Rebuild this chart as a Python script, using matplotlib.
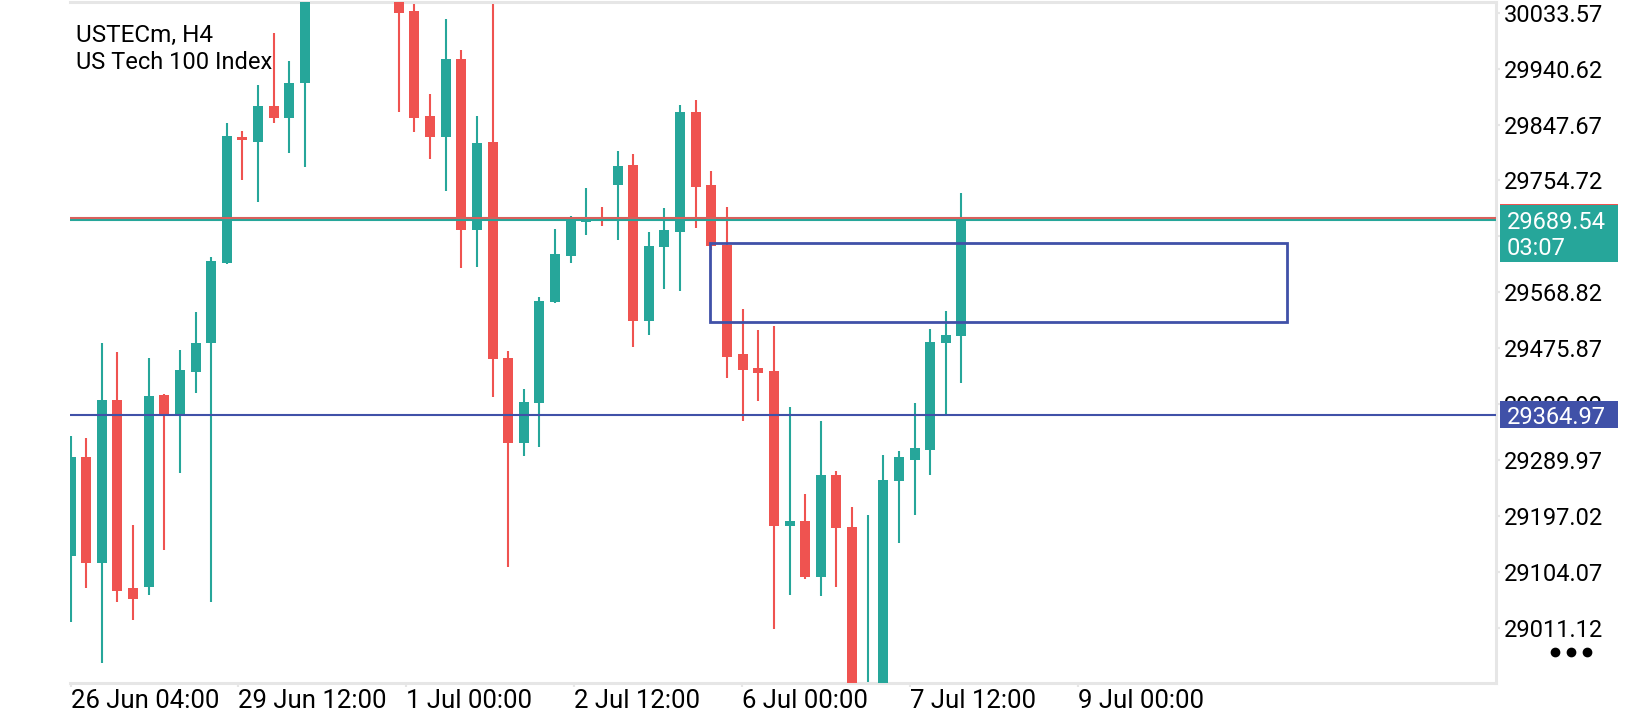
import matplotlib
matplotlib.use("Agg")
import matplotlib.pyplot as plt
from matplotlib.patches import Rectangle
from matplotlib.lines import Line2D
import numpy as np

plt.rcParams['font.family'] = ['Roboto', 'DejaVu Sans']

# ---- data (H4 candles, USTECm) ----
opens = [29130.2, 29294.3, 29118.0, 29389.6, 29076.5, 29079.2, 29397.9, 29364.6, 29436.6, 29483.9,
         29617.9, 29827.4, 29819.1, 29878.4, 29858.0, 29916.2, 30090.0, 30140.0, 30180.0, 30150.0,
         30100.0, 30078.0, 30036.4, 29861.8, 29826.4, 29956.6, 29672.3, 29818.6, 29458.9, 29317.6,
         29384.1, 29553.0, 29629.5, 29686.1, 29693.4, 29747.1, 29780.3, 29520.9, 29644.5, 29669.4,
         29868.0, 29747.1, 29647.3, 29466.1, 29442.3, 29437.8, 29180.6, 29188.4, 29095.8, 29264.9,
         29178.9, 28850.0, 28895.0, 29255.4, 29289.8, 29306.4, 29484.9, 29496.5]
highs = [29329.7, 29325.9, 29483.8, 29468.9, 29181.7, 29458.9, 29399.6, 29472.7, 29536.4, 29627.9,
         29849.7, 29836.9, 29913.4, 29999.3, 29953.3, 30130.0, 30160.0, 30210.0, 30230.0, 30190.0,
         30140.0, 30095.0, 30065.0, 29898.4, 30023.1, 29971.6, 29861.8, 30060.0, 29471.1, 29407.9,
         29561.4, 29673.9, 29695.5, 29741.6, 29711.0, 29803.6, 29798.6, 29669.4, 29708.3, 29880.1,
         29888.4, 29770.4, 29710.0, 29540.4, 29506.0, 29512.6, 29378.4, 29232.8, 29354.7, 29271.5,
         29212.2, 29198.4, 29298.1, 29304.8, 29384.1, 29507.1, 29537.6, 29734.3]
lows = [29020.9, 29076.5, 28951.8, 29054.2, 29023.8, 29065.3, 29140.2, 29268.7, 29400.7, 29054.2,
        29616.2, 29755.4, 29719.3, 29849.7, 29799.8, 29776.5, 30075.0, 30110.0, 30120.0, 30080.0,
        30062.0, 29869.0, 29835.7, 29790.8, 29737.6, 29609.6, 29611.2, 29395.1, 29112.4, 29297.0,
        29310.9, 29551.4, 29616.9, 29663.9, 29678.9, 29655.6, 29478.2, 29497.7, 29574.2, 29571.3,
        29676.1, 29639.0, 29426.7, 29355.2, 29388.4, 29008.3, 29065.3, 29091.9, 29063.7, 29079.2,
        28840.0, 28820.0, 28860.0, 29152.3, 29198.4, 29264.9, 29366.3, 29418.3]
closes = [29295.3, 29118.0, 29389.6, 29072.5, 29058.2, 29396.2, 29366.3, 29439.5, 29484.9, 29620.7,
          29828.6, 29821.9, 29878.4, 29858.0, 29916.2, 30090.0, 30140.0, 30180.0, 30150.0, 30100.0,
          30078.0, 30033.5, 29858.0, 29826.4, 29956.6, 29672.3, 29817.4, 29457.3, 29317.6, 29386.8,
          29554.2, 29632.4, 29691.7, 29693.4, 29687.7, 29778.7, 29520.9, 29645.7, 29672.3, 29868.0,
          29744.3, 29646.2, 29461.6, 29439.5, 29435.0, 29180.6, 29188.4, 29095.8, 29264.9, 29176.2,
          28870.0, 28900.0, 29256.6, 29294.3, 29309.3, 29485.5, 29497.7, 29689.54]

date_labels = ['26 Jun 04:00', '29 Jun 12:00', '1 Jul 00:00', '2 Jul 12:00',
               '6 Jul 00:00', '7 Jul 12:00', '9 Jul 00:00']
price_ticks = [30033.57, 29940.62, 29847.67, 29754.72, 29661.77, 29568.82, 29475.87,
               29382.92, 29289.97, 29197.02, 29104.07, 29011.12]

bid_price = 29689.54
ask_price = 29693.0
level_price = 29364.97
bar_time_left = '03:07'
zone_top = 29650.1
zone_bottom = 29518.8
zone_start_bar = 40.89
zone_end_bar = 77.83

title_lines = ['USTECm, H4', 'US Tech 100 Index']

# ---- styling ----
UP = '#26a69a'
DOWN = '#ef5350'
BLUE = '#4051a8'
GRID = '#e6e6e6'
W, H = 1640, 720

fig = plt.figure(figsize=(W / 100, H / 100), dpi=100)
ax = fig.add_axes([70 / W, 1 - 683 / H, (1496 - 70) / W, (683 - 2) / H])

x = np.arange(len(opens))
o = np.array(opens); h = np.array(highs); l = np.array(lows); c = np.array(closes)
colors = np.where(c >= o, UP, DOWN)

ax.vlines(x, l, h, colors=colors, linewidth=1.5, zorder=2)
ax.bar(x, np.abs(c - o), bottom=np.minimum(o, c), width=0.64, color=colors,
       linewidth=0, zorder=3)

# horizontal lines
ax.axhline(bid_price, color=UP, linewidth=1.5, zorder=4)
ax.axhline(ask_price, color='#d9605c', linewidth=1.5, zorder=4)
ax.axhline(level_price, color=BLUE, linewidth=1.5, zorder=4)

# zone rectangle
ax.add_patch(Rectangle((zone_start_bar, zone_bottom), zone_end_bar - zone_start_bar,
                       zone_top - zone_bottom, fill=False, edgecolor=BLUE,
                       linewidth=2.0, zorder=5))

ax.set_xlim(-0.032, 91.2)
ax.set_ylim(28919.0, 30051.4)

# spines
ax.spines['left'].set_visible(False)
for s in ['top', 'right', 'bottom']:
    ax.spines[s].set_color(GRID)
    ax.spines[s].set_linewidth(2.2)

# x ticks
ax.set_xticks(np.arange(len(date_labels)) * 10.744)
ax.set_xticklabels(date_labels)
for lab in ax.get_xticklabels():
    lab.set_horizontalalignment('left')
ax.tick_params(axis='x', length=3, width=1.5, color=GRID, labelsize=18.5, pad=1.5,
               labelcolor='#000000')

# y ticks on right
ax.yaxis.tick_right()
ax.set_yticks(price_ticks)
ax.set_yticklabels([f'{p:.2f}' for p in price_ticks])
ax.tick_params(axis='y', length=3, width=1.5, color=GRID, labelsize=17, pad=2.5,
               labelcolor='#000000')
ax.tick_params(axis='y', which='both', left=False)

# title text
fig.text(76 / W, 1 - 41.7 / H, title_lines[0], fontsize=17.5, va='baseline', ha='left', color='#000000', zorder=10)
fig.text(76 / W, 1 - 69.3 / H, title_lines[1], fontsize=17, va='baseline', ha='left', color='#000000', zorder=10)

# price labels on the right axis
def px_rect(x0, y0, x1, y1, color, z):
    r = Rectangle((x0 / W, 1 - y1 / H), (x1 - x0) / W, (y1 - y0) / H,
                  transform=fig.transFigure, facecolor=color, edgecolor='none', zorder=z)
    fig.add_artist(r)

ytr = ax.transData
def price_to_py(p):
    return H - ytr.transform((0, p))[1]

ay = price_to_py(ask_price)
px_rect(1500, ay - 14, 1618, ay + 13, DOWN, 20)
by = price_to_py(bid_price)
px_rect(1500, by - 14.5, 1618, by + 42.5, UP, 21)
fig.text(1507 / W, 1 - by / H, f'{bid_price:.2f}', fontsize=17, color='white',
         va='center_baseline', ha='left', zorder=22)
fig.text(1507 / W, 1 - (by + 26) / H, bar_time_left, fontsize=17, color='white',
         va='center_baseline', ha='left', zorder=22)
ly = price_to_py(level_price)
px_rect(1500, ly - 13.5, 1618, ly + 13.5, BLUE, 21)
fig.text(1507 / W, 1 - ly / H, f'{level_price:.2f}', fontsize=17, color='white',
         va='center_baseline', ha='left', zorder=22)

# three dots menu
fig.add_artist(Line2D([1555 / W, 1571 / W, 1587 / W], [1 - 652 / H] * 3,
                      transform=fig.transFigure, marker='o', linestyle='none',
                      markersize=6, color='#000000'))

fig.savefig('out.png', dpi=100, facecolor='white')
